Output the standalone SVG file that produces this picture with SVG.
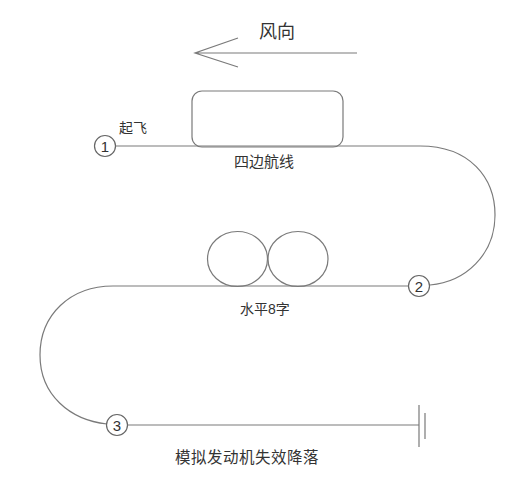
<svg xmlns="http://www.w3.org/2000/svg" width="532" height="484" viewBox="0 0 532 484">
<style>
.ln{fill:none;stroke:#7a7a7a;stroke-width:1.2}
.nd{fill:#fff;stroke:#666;stroke-width:1.2}
.t{font-family:"Liberation Sans","Noto Sans CJK SC",sans-serif;fill:#333}
.num{font-family:"Liberation Sans",sans-serif;fill:#333;font-size:15px;text-anchor:middle}
</style>
<rect width="532" height="484" fill="#fff"/>
<g id="wind">
<path class="ln" d="M357 53 H195 M238 38 L195 53 L238 67"/>
<text class="t" x="259" y="38" font-size="18">风向</text>
</g>
<g id="connectors">
<path class="ln" d="M116 146 H420 C470 146 495 178 495 215 C495 255 465 282 430 285"/>
<path class="ln" d="M409 286 H113 C70 286 40 315 40 355 C40 395 70 420 107 424"/>
<path class="ln" d="M128 425 H419"/>
</g>
<g id="box">
<rect class="ln" x="192" y="91" width="151" height="56" rx="10"/>
<text class="t" x="234" y="167" font-size="15">四边航线</text>
</g>
<g id="figure8">
<ellipse class="ln" cx="237.5" cy="259" rx="30" ry="27.5"/>
<ellipse class="ln" cx="298" cy="259" rx="30" ry="27.5"/>
<text class="t" x="240" y="314" font-size="14">水平8字</text>
</g>
<g id="landing">
<path class="ln" d="M419 405 V447 M425 413 V439"/>
<text class="t" x="175" y="463" font-size="15.5" letter-spacing="0.5">模拟发动机失效降落</text>
</g>
<g id="n1">
<circle class="nd" cx="105" cy="146" r="10.5"/>
<text class="num" x="105" y="151.5">1</text>
<text class="t" x="119" y="133" font-size="14">起飞</text>
</g>
<g id="n2">
<circle class="nd" cx="419" cy="286" r="10.5"/>
<text class="num" x="419" y="291.5">2</text>
</g>
<g id="n3">
<circle class="nd" cx="117" cy="425" r="10.5"/>
<text class="num" x="117" y="430.5">3</text>
</g>
</svg>
